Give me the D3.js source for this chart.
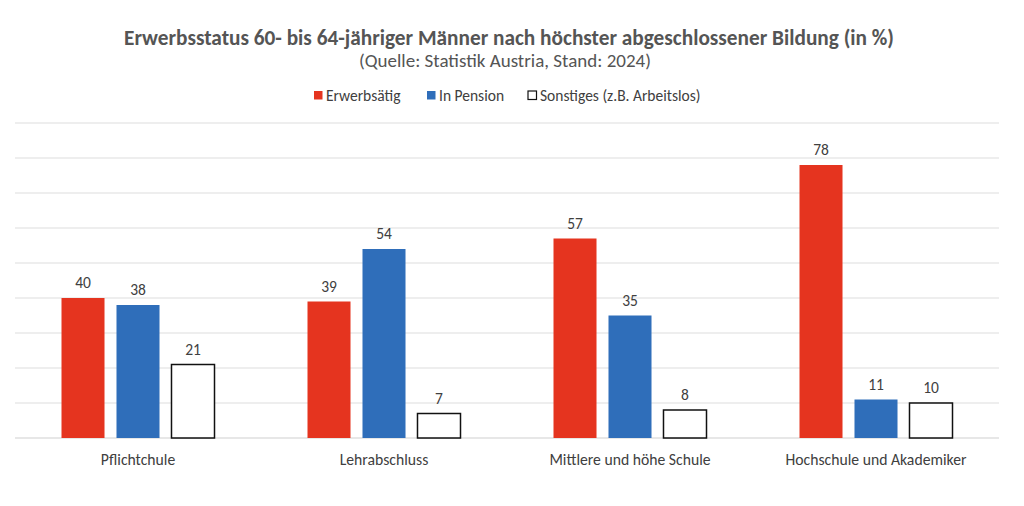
<!DOCTYPE html>
<html>
<head>
<meta charset="utf-8">
<script src="https://cdn.jsdelivr.net/npm/d3@7"></script>
<style>
  body { margin: 0; background: #fff; }
  text { font-family: Carlito, Lato, "Open Sans", sans-serif; }
</style>
</head>
<body>
<div id="chart"></div>
<script>
// data
var categories = ["Pflichtchule", "Lehrabschluss", "Mittlere und höhe Schule", "Hochschule und Akademiker"];
var seriesNames = ["Erwerbsätig", "In Pension", "Sonstiges (z.B. Arbeitslos)"];
var erwerbstaetig = [40, 39, 57, 78];
var inPension = [38, 54, 35, 11];
var sonstiges = [21, 7, 8, 10];
var yTicks = [0, 10, 20, 30, 40, 50, 60, 70, 80, 90];

var width = 1024, height = 506;
var margin = {top: 123, right: 25, bottom: 68, left: 15};
var fills = ["#E5341F", "#2F6EBA", "#ffffff"];
var strokes = ["none", "none", "#111"];
var groupW = 153;

var svg = d3.select("#chart").append("svg").attr("width", width).attr("height", height);

var x0 = d3.scaleBand().domain(categories).range([margin.left, width - margin.right]);
var x1 = d3.scaleBand().domain(seriesNames).range([0, groupW]).paddingInner(0.218).paddingOuter(0);
var y = d3.scaleLinear().domain([0, 90]).range([height - margin.bottom, margin.top]);

// grid
svg.append("g").selectAll("line").data(yTicks).enter().append("line")
    .attr("x1", margin.left).attr("x2", width - margin.right)
    .attr("y1", function(d){ return y(d) }).attr("y2", function(d){ return y(d) })
    .attr("stroke", function(d){ return d === 0 ? "#d0d0d0" : "#dedede" })
    .attr("stroke-width", 1.2);

var rows = categories.map(function(c, i){
    return [erwerbstaetig[i], inPension[i], sonstiges[i]].map(function(v, j){
        return {cat: c, name: seriesNames[j], value: v, j: j};
    });
});

var groups = svg.append("g").selectAll("g").data(rows).enter().append("g")
    .attr("transform", function(d, i){ return "translate(" + (x0(categories[i]) + x0.bandwidth() / 2 - groupW / 2) + ",0)" });

groups.selectAll("rect").data(function(d){ return d }).enter().append("rect")
    .attr("x", function(d){ return x1(d.name) })
    .attr("y", function(d){ return y(d.value) })
    .attr("width", x1.bandwidth())
    .attr("height", function(d){ return y(0) - y(d.value) })
    .attr("fill", function(d){ return fills[d.j] })
    .attr("stroke", function(d){ return strokes[d.j] })
    .attr("stroke-width", 1.5);

groups.selectAll("text").data(function(d){ return d }).enter().append("text")
    .attr("x", function(d){ return x1(d.name) + x1.bandwidth() / 2 })
    .attr("y", function(d){ return y(d.value) - 10 })
    .attr("text-anchor", "middle")
    .attr("font-size", 15.5)
    .attr("fill", "#404040")
    .text(function(d){ return d.value });

// category axis labels
svg.append("g").selectAll("text").data(categories).enter().append("text")
    .attr("x", function(d){ return x0(d) + x0.bandwidth() / 2 })
    .attr("y", 465)
    .attr("text-anchor", "middle")
    .attr("font-size", 15.7)
    .attr("fill", "#404040")
    .text(function(d){ return d });

// titles
svg.append("text").attr("x", 509).attr("y", 45).attr("text-anchor", "middle")
    .attr("font-size", 21.3).attr("font-weight", "bold").attr("fill", "#555")
    .text("Erwerbsstatus 60- bis 64-jähriger Männer nach höchster abgeschlossener Bildung (in %)");
svg.append("text").attr("x", 505).attr("y", 67).attr("text-anchor", "middle")
    .attr("font-size", 19).attr("fill", "#555")
    .text("(Quelle: Statistik Austria, Stand: 2024)");

// legend
var legendX = [314, 427, 528];
var legend = svg.append("g").selectAll("g").data(seriesNames).enter().append("g")
    .attr("transform", function(d, i){ return "translate(" + legendX[i] + ",95)" });
legend.append("rect").attr("x", 0).attr("y", -4).attr("width", 8.5).attr("height", 8.5)
    .attr("fill", function(d, i){ return fills[i] })
    .attr("stroke", function(d, i){ return strokes[i] }).attr("stroke-width", 1.2);
legend.append("text").attr("x", 12).attr("y", 5.5)
    .attr("font-size", 15.5).attr("fill", "#404040")
    .text(function(d){ return d });
</script>
</body>
</html>
